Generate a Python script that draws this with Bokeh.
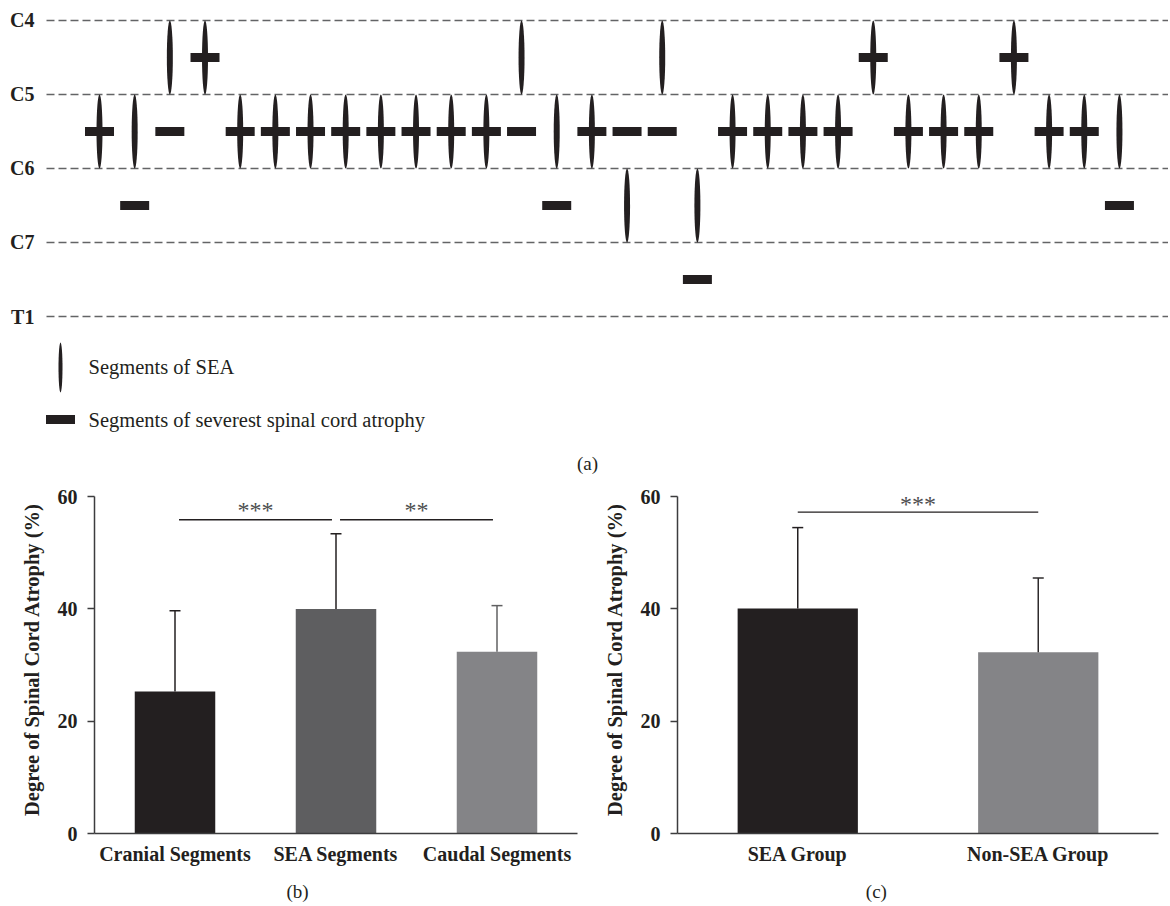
from bokeh.plotting import figure
from bokeh.layouts import column, row
from bokeh.models import Range1d, FixedTicker, LinearAxis
from bokeh.embed import file_html
from bokeh.resources import INLINE
from bokeh.core.properties import value

# ---------------- data ----------------
LEVELS = ["C4", "C5", "C6", "C7", "T1"]
# upper vertebral level index of each patient's SEA segment / severest atrophy segment
SEA_SEGMENT = [1, 1, 0, 0, 1, 1, 1, 1, 1, 1, 1, 1, 0, 1, 1, 2, 0, 2, 1, 1, 1, 1, 0, 1, 1, 1, 0, 1, 1, 1]
ATROPHY_SEGMENT = [1, 2, 1, 0, 1, 1, 1, 1, 1, 1, 1, 1, 1, 2, 1, 1, 1, 3, 1, 1, 1, 1, 0, 1, 1, 1, 0, 1, 1, 2]

REGIONS = ["Cranial Segments", "SEA Segments", "Caudal Segments"]
REGION_MEAN = [25.3, 40.0, 32.4]
REGION_SD = [14.4, 13.4, 8.2]

GROUPS = ["SEA Group", "Non-SEA Group"]
GROUP_MEAN = [40.1, 32.3]
GROUP_SD = [14.4, 13.2]

YTICKS = [0, 20, 40, 60]

# ---------------- style ----------------
INK = "#231f20"
SERIF = "Liberation Serif"
REGION_COLORS = ["#231f20", "#5e5e60", "#848487"]
REGION_ERR = ["#231f20", "#231f20", "#606062"]
GROUP_COLORS = ["#231f20", "#848487"]
GROUP_ERR = ["#231f20", "#2e2b2c"]

# ================= panel (a) =================
pa = figure(width=1168, height=478,
            x_range=Range1d(-2.815, 30.395), y_range=Range1d(6.189, -0.270),
            x_axis_location=None, y_axis_location=None, min_border=0,
            toolbar_location=None, output_backend="svg")
pa.outline_line_color = None
pa.grid.visible = False

lvl_idx = list(range(len(LEVELS)))
pa.segment(x0=-1.507, y0=lvl_idx, x1=30.6, y1=lvl_idx,
           line_color="#636466", line_width=1.3, line_dash="8 4")
pa.text(x=-1.85, y=lvl_idx, text=LEVELS, text_font=value(SERIF),
        text_font_style="bold", text_font_size="20px", text_color=INK,
        text_align="right", text_baseline="middle")

patients = list(range(len(SEA_SEGMENT)))
pa.ellipse(x=patients, y=[s + 0.5 for s in SEA_SEGMENT], width=6, height=1.0,
           width_units="screen", fill_color=INK, line_color=None)
pa.rect(x=patients, y=[a + 0.5 for a in ATROPHY_SEGMENT], width=29, height=9,
        width_units="screen", height_units="screen", fill_color=INK, line_color=None)

# legend
LEG_X, LEG_TX, LEG_Y1, LEG_Y2 = -1.109, -0.313, 4.689, 5.392
pa.ellipse(x=[LEG_X], y=[LEG_Y1], width=4, height=0.676, width_units="screen",
           fill_color=INK, line_color=None)
pa.rect(x=[LEG_X], y=[LEG_Y2], width=29, height=9, width_units="screen",
        height_units="screen", fill_color=INK, line_color=None)
pa.text(x=[LEG_TX, LEG_TX], y=[LEG_Y1, LEG_Y2],
        text=["Segments of SEA", "Segments of severest spinal cord atrophy"],
        text_font=value(SERIF), text_font_size="20.5px", text_color=INK,
        text_align="left", text_baseline="middle")
pa.text(x=[13.875], y=[5.986], text=["(a)"], text_font=value(SERIF),
        text_font_size="19px", text_color=INK, text_align="center", text_baseline="middle")


def bar_panel(width, left, right, cats, means, sds, colors, errcolors, brackets, inset, tag, tag_x):
    n = len(cats)
    p = figure(width=width, height=426, x_range=Range1d(0, n), y_range=Range1d(0, 62),
               min_border_left=left, min_border_right=right, min_border_top=7,
               min_border_bottom=71, toolbar_location=None, output_backend="svg")
    p.outline_line_color = None
    p.grid.visible = False
    xs = [i + 0.5 for i in range(n)]
    tops = [m + s for m, s in zip(means, sds)]
    p.vbar(x=xs, top=means, width=0.5, fill_color=colors, line_color=None)
    p.segment(x0=xs, y0=means, x1=xs, y1=tops, line_color=errcolors, line_width=1.5)
    p.scatter(x=xs, y=tops, marker="dash", size=11, line_color=errcolors, line_width=1.5)
    for (i, j, stars, yl, ys) in brackets:
        p.segment(x0=[xs[i] + inset], y0=[yl], x1=[xs[j] - inset], y1=[yl],
                  line_color=INK, line_width=1.4)
        p.text(x=[(xs[i] + xs[j]) / 2], y=[ys], text=[stars], text_font=value(SERIF),
               text_font_size="24px", text_color="#4d4d4f", text_align="center",
               text_baseline="middle")
    ya = p.yaxis[0]
    ya.ticker = FixedTicker(ticks=YTICKS)
    ya.bounds = (0, 60)
    ya.major_tick_out = 7
    ya.major_tick_in = 0
    ya.minor_tick_line_color = None
    ya.major_label_standoff = 10
    ya.axis_label = "Degree of Spinal Cord Atrophy (%)"
    ya.axis_label_standoff = 12
    xa = p.xaxis[0]
    xa.ticker = FixedTicker(ticks=xs)
    xa.major_label_overrides = {x: c for x, c in zip(xs, cats)}
    xa.major_tick_out = 0
    xa.major_tick_in = 0
    xa.minor_tick_line_color = None
    xa.major_label_standoff = 9
    for ax in (xa, ya):
        ax.axis_line_color = "#3c3c3e"
        ax.axis_line_width = 1.5
        ax.major_tick_line_color = "#3c3c3e" if ax is ya else None
        ax.major_tick_line_width = 1.5
        ax.major_label_text_font = SERIF
        ax.major_label_text_font_style = "bold"
        ax.major_label_text_font_size = "20px"
        ax.major_label_text_color = INK
        ax.axis_label_text_font = SERIF
        ax.axis_label_text_font_style = "bold"
        ax.axis_label_text_font_size = "20.5px"
        ax.axis_label_text_color = INK
    # panel tag "(b)" / "(c)" as a secondary, line-less axis below the category labels
    tag_axis = LinearAxis(ticker=FixedTicker(ticks=[tag_x]),
                          major_label_overrides={tag_x: tag},
                          axis_line_color=None, major_tick_line_color=None,
                          minor_tick_line_color=None, major_tick_out=0, major_tick_in=0,
                          minor_tick_out=0, major_label_standoff=13,
                          major_label_text_font=SERIF, major_label_text_font_size="19px",
                          major_label_text_color=INK)
    p.add_layout(tag_axis, "below")
    return p


pb = bar_panel(600, 94, 23, REGIONS, REGION_MEAN, REGION_SD, REGION_COLORS, REGION_ERR,
               [(0, 1, "***", 55.9, 57.65), (1, 2, "**", 55.9, 57.65)], 0.025, "(b)", 1.261)
pc = bar_panel(568, 77, 10, GROUPS, GROUP_MEAN, GROUP_SD, GROUP_COLORS, GROUP_ERR,
               [(0, 1, "***", 57.25, 58.7)], 0.0, "(c)", 0.827)

layout = column(pa, row(pb, pc))
open("out.html", "w").write(file_html(layout, INLINE))
